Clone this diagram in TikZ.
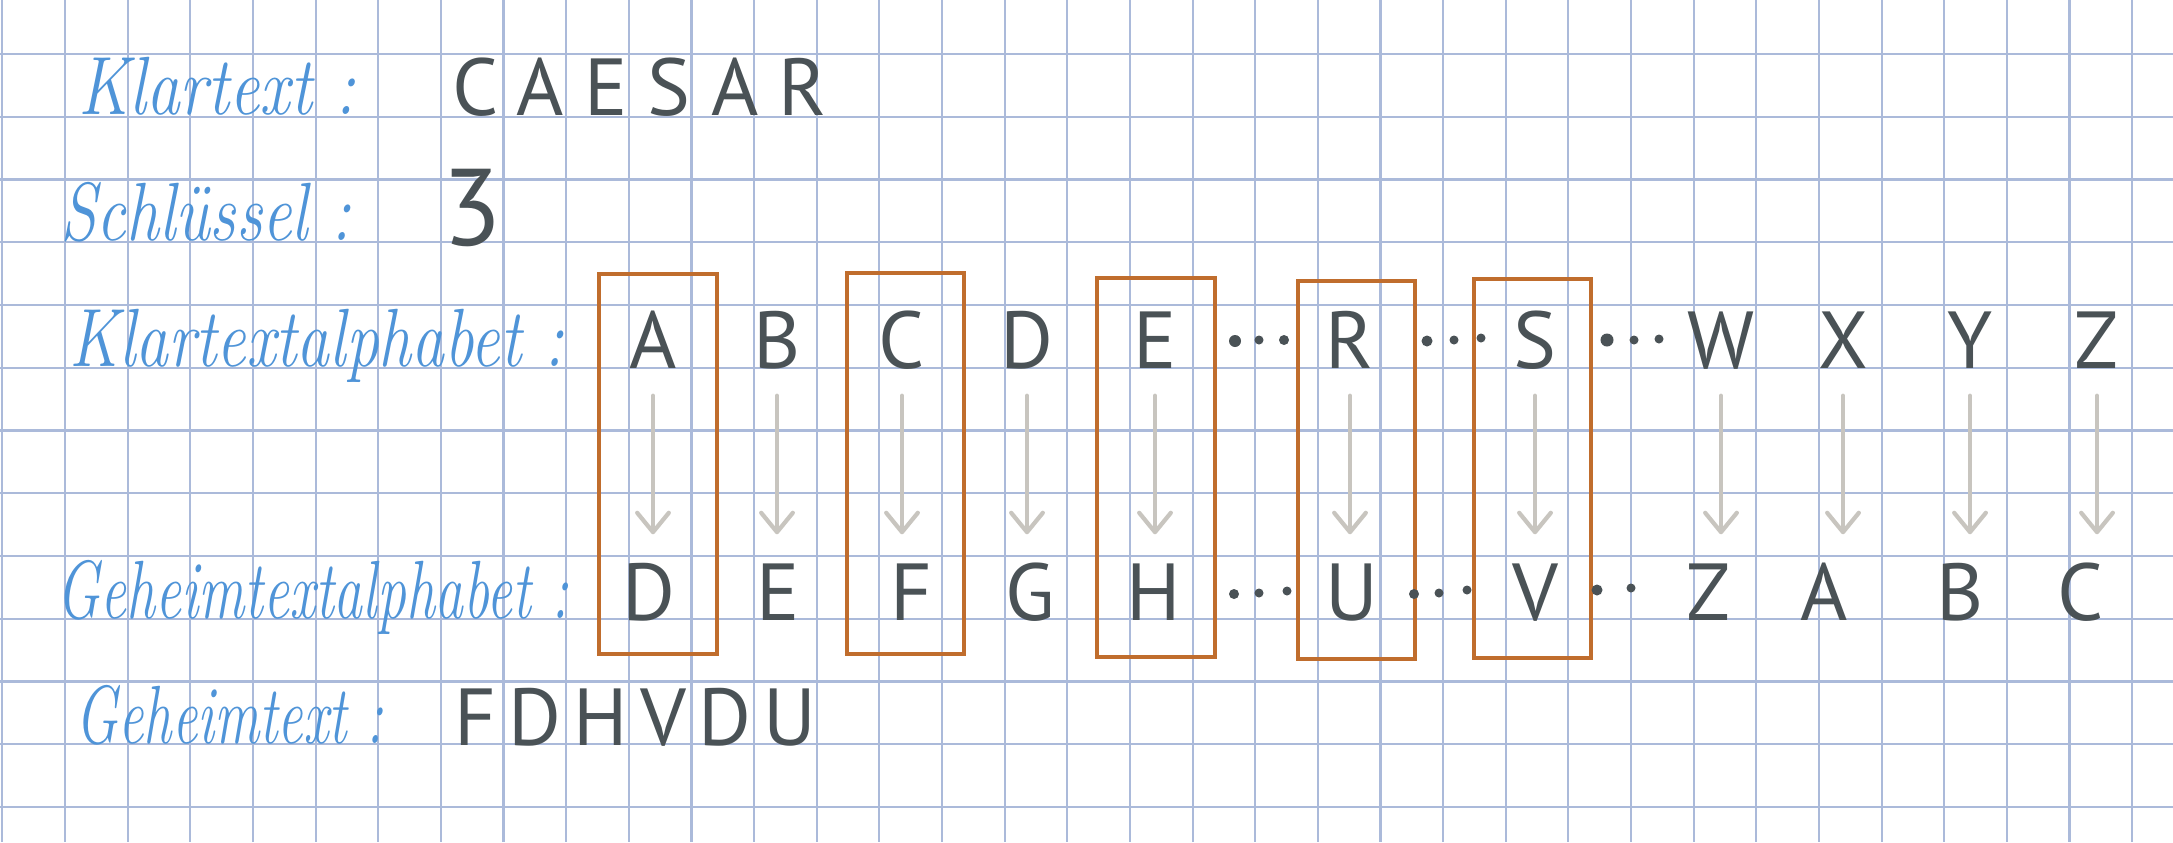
\documentclass[tikz,border=0pt]{standalone}
\usepackage{fontspec}
\usepackage{graphicx}
\newfontfamily\letterfont{PT Sans}
\usetikzlibrary{arrows.meta}
\definecolor{gridc}{HTML}{ABBADA}
\definecolor{handc}{HTML}{4F94D8}
\definecolor{inkc}{HTML}{4A5256}
\definecolor{boxc}{HTML}{C06D2D}
\definecolor{arrc}{HTML}{C8C5BF}
\tikzset{
  gridline/.style={draw=gridc, line width=0.6pt},
  hand/.style={text=handc, anchor=base west, inner sep=0pt,
    font=\fontsize{23.5}{28}\selectfont\itshape\addfontfeature{FakeBold=1.5}},
  ink/.style={text=inkc, inner sep=0pt, font=\letterfont\fontsize{23}{28}\selectfont},
  letter/.style={ink, anchor=base, text height=0.57cm, text depth=0pt},
  hl/.style={draw=boxc, line width=1.05pt},
  maparrow/.style={draw=arrc, line width=1.2pt, line cap=round,
    -{Straight Barb[length=5.5pt,width=9pt,line cap=round,line join=round]},
    shorten <=0.27cm, shorten >=0.28cm},
  dotmark/.style={fill=inkc},
}
\begin{document}
\begin{tikzpicture}[x=0.01cm, y=-0.01cm]
\useasboundingbox (0,0) rectangle (2173,842);
\fill[white] (0,0) rectangle (2173,842);
% grid
\foreach \i in {0,...,34} \draw[gridline] ({2.4+62.64*\i},0) -- ({2.4+62.64*\i},842);
\foreach \j in {0,...,12} \draw[gridline] (0,{54+62.75*\j}) -- (2173,{54+62.75*\j});
% labels
\node[hand] (lk)  at (78,114)  {\resizebox{2.77cm}{\height}{Klartext :}};
\node[hand] (ls)  at (60,240)  {\resizebox{2.90cm}{\height}{Schlüssel :}};
\node[hand] (lka) at (69,366)  {\resizebox{4.94cm}{\height}{Klartextalphabet :}};
\node[hand] (lga) at (56,618)  {\resizebox{5.12cm}{\height}{Geheimtextalphabet :}};
\node[hand] (lg)  at (75,743)  {\resizebox{3.08cm}{\height}{Geheimtext :}};
% values
\node[ink, anchor=base west] (pt) at (452,115) {\addfontfeature{LetterSpace=25}CAESAR};
\node[ink, anchor=base, font=\letterfont\fontsize{31}{34}\selectfont] (key) at (472,245) {3};
\node[ink, anchor=base west] (ct) at (454,745) {\addfontfeature{LetterSpace=15}FDHVDU};
% alphabets
\foreach \n/\l/\x in {1/A/653, 2/B/777, 3/C/902, 4/D/1027, 5/E/1155, 6/R/1350, 7/S/1535, 8/W/1721, 9/X/1843, 10/Y/1970, 11/Z/2097}
  \node[letter] (t\n) at (\x,368) {\l};
\foreach \n/\l/\x in {1/D/649, 2/E/778, 3/F/911, 4/G/1030, 5/H/1154, 6/U/1352, 7/V/1535, 8/Z/1709, 9/A/1824, 10/B/1960, 11/C/2081}
  \node[letter] (b\n) at (\x,620) {\l};
% arrows
\foreach \n in {1,...,11}
  \draw[maparrow] (t\n.south) -- (t\n.south |- b\n.north);
% highlight boxes
\draw[hl] (599,274) rectangle (717,654);
\draw[hl] (847,273) rectangle (964,654);
\draw[hl] (1097,278) rectangle (1215,657);
\draw[hl] (1298,281) rectangle (1415,659);
\draw[hl] (1474,279) rectangle (1591,658);
% ellipsis dots
\foreach \x/\y/\r in {1235/341/0.06, 1259/340/0.045, 1284/340/0.05,
                      1427/341/0.055, 1454/340/0.045, 1481/338/0.045,
                      1607/340/0.065, 1634/340/0.045, 1659/339/0.045,
                      1234/594/0.05, 1259/593/0.045, 1287/591/0.045,
                      1414/594/0.05, 1439/593/0.045, 1467/590/0.045,
                      1597/590/0.055, 1631/588/0.045}
  \fill[dotmark] (\x,\y) circle (\r cm);
\end{tikzpicture}
\end{document}
